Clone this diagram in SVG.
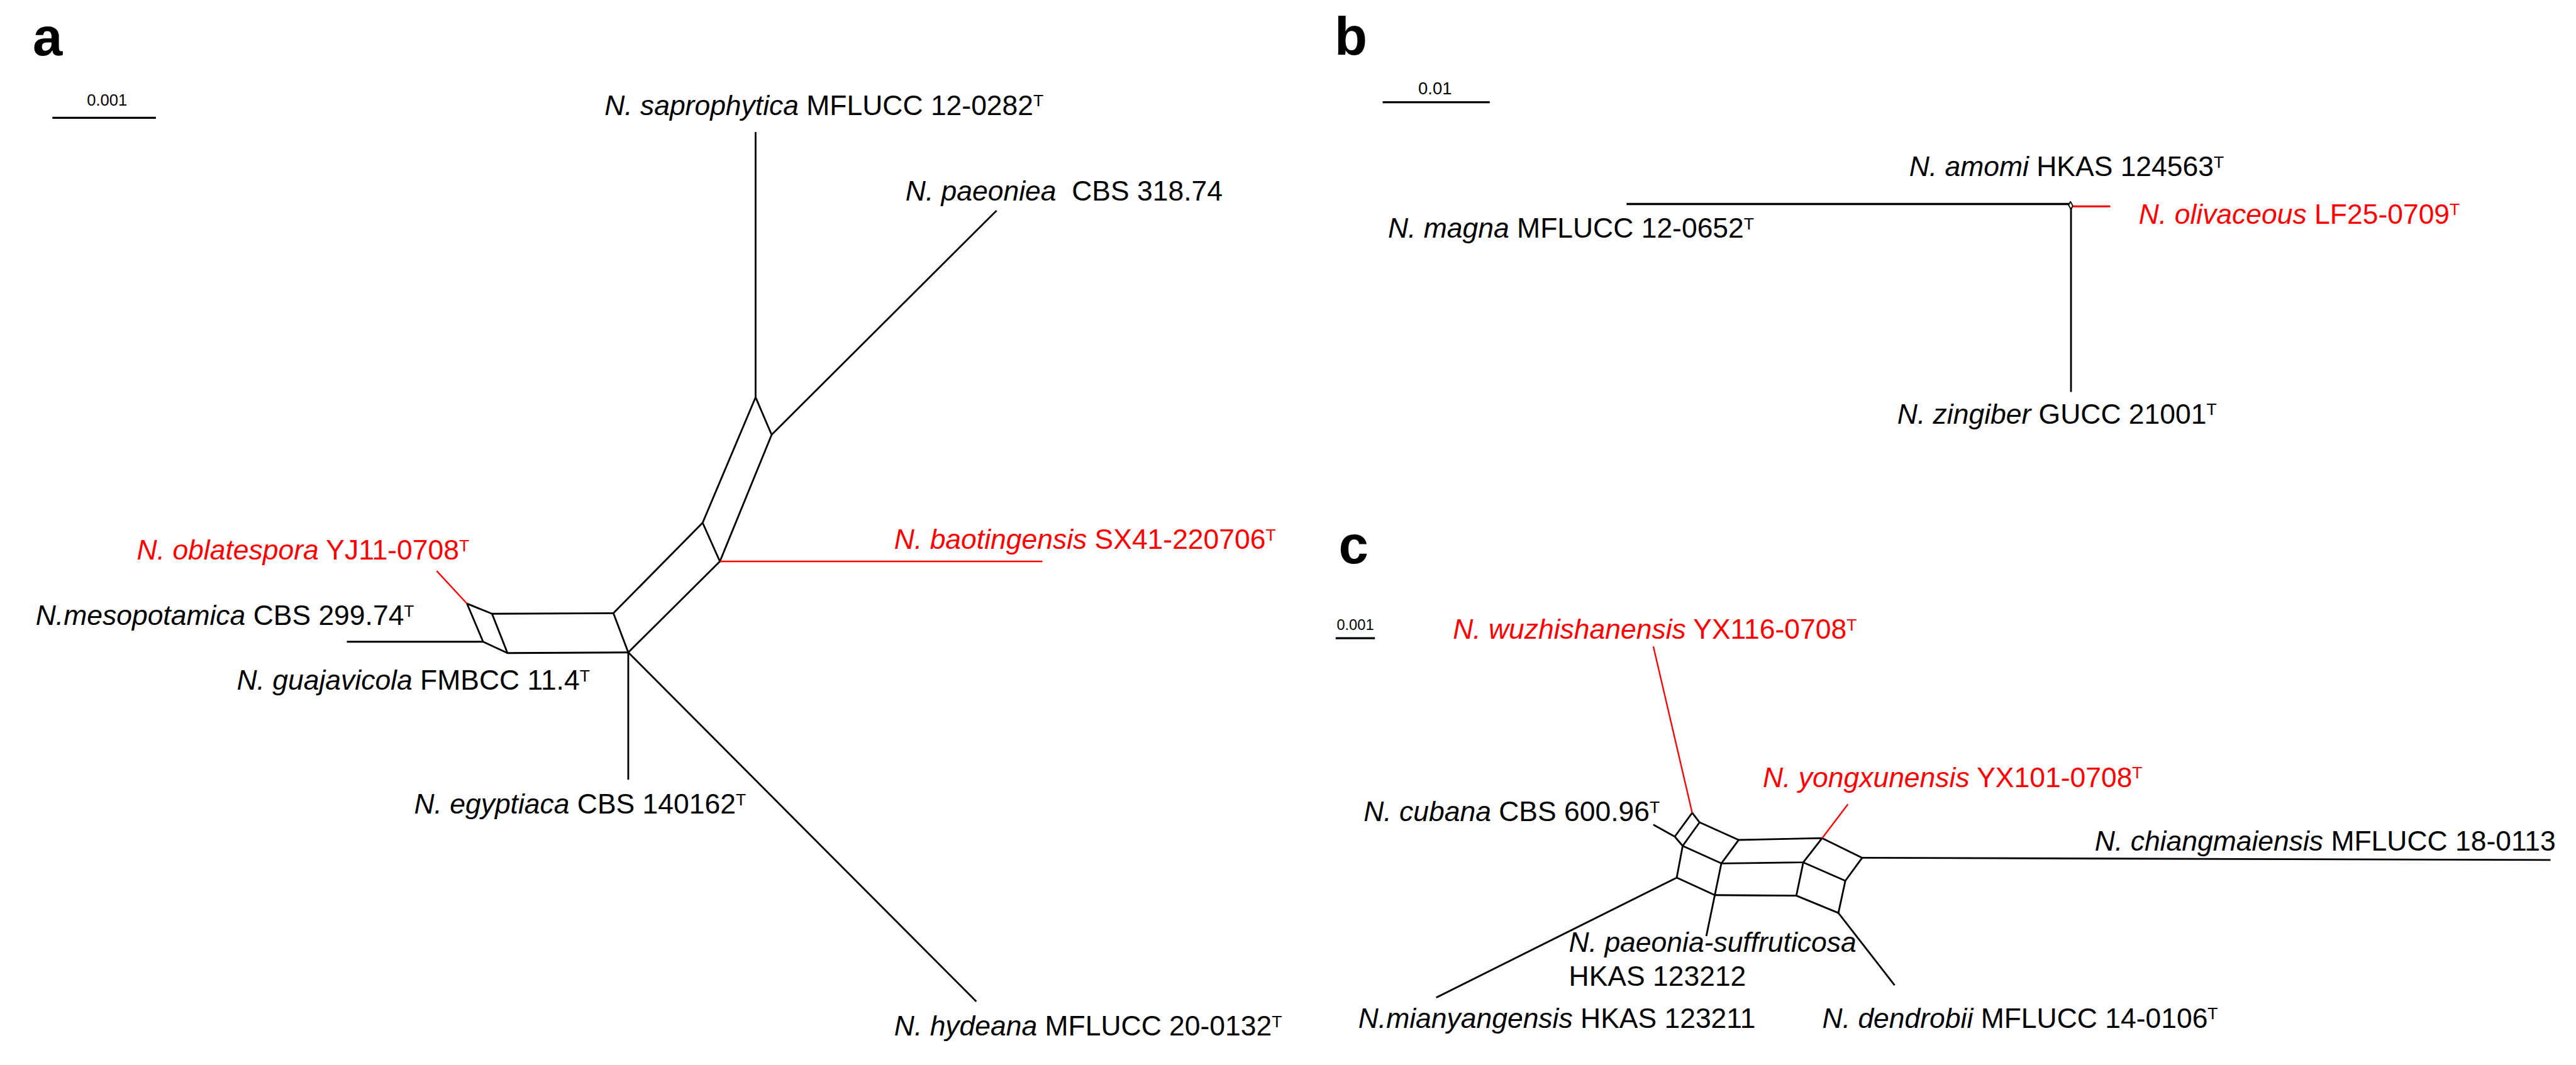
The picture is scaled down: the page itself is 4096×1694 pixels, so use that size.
<svg xmlns="http://www.w3.org/2000/svg" width="4096" height="1694" viewBox="0 0 4096 1694">
<style>
.t{font-family:"Liberation Sans",Arial,sans-serif;font-size:47px;fill:#000}
.r{fill:#f00}
.i{font-style:italic}
.s{font-size:28px}
.p{font-family:"Liberation Sans",Arial,sans-serif;font-weight:bold;font-size:90px;fill:#000}
.sc{font-family:"Liberation Sans",Arial,sans-serif;font-size:27px;fill:#000;text-anchor:middle}
.e{stroke:#000;stroke-width:3;fill:none;stroke-linejoin:round}
.er{stroke:#f00;stroke-width:2.5;fill:none}
.bar{stroke:#000;stroke-width:3.5}
</style>
<rect width="4096" height="1694" fill="#fff"/>
<g transform="scale(0.946)">
<g id="panel-labels">
<text class="p" x="55" y="93">a</text>
<text class="p" x="2243" y="92">b</text>
<text class="p" x="2250" y="947">c</text>
</g>
<g id="scale-bars">
<line class="bar" x1="88" y1="198" x2="262" y2="198"/>
<text class="sc" x="180" y="178">0.001</text>
<line class="bar" x1="2324" y1="172" x2="2504" y2="172"/>
<text class="sc" x="2412" y="159" style="font-size:29px">0.01</text>
<line class="bar" x1="2245" y1="1073" x2="2311" y2="1073"/>
<text class="sc" x="2278" y="1059" style="font-size:25px">0.001</text>
</g>
<g id="connectors">
<!-- panel a -->
<g id="a-edges">
<line class="e" x1="1270" y1="222" x2="1270" y2="668"/>
<polyline class="e" points="1181,879 1270,668 1297,731 1210,944 1181,879"/>
<line class="e" x1="1297" y1="731" x2="1675" y2="354"/>
<line class="er" x1="1210" y1="944" x2="1752" y2="944"/>
<polyline class="e" points="1181,879 1031,1031 1056,1097 1210,944"/>
<polyline class="e" points="1031,1031 827,1032 853,1098 1056,1097"/>
<polyline class="e" points="827,1032 785,1015 812,1079 853,1098"/>
<line class="er" x1="785" y1="1015" x2="734" y2="960"/>
<line class="e" x1="812" y1="1079" x2="583" y2="1079"/>
<line class="e" x1="1056" y1="1097" x2="1056" y2="1311"/>
<line class="e" x1="1056" y1="1097" x2="1641" y2="1684"/>
</g>
<!-- panel b -->
<g id="b-edges">
<line class="e" x1="2734" y1="343" x2="3478" y2="343" style="stroke-width:3.5"/>
<polygon class="e" points="3480,339 3484,346 3481,352 3477,345" style="stroke-width:2"/>
<line class="er" x1="3484" y1="347" x2="3547" y2="347" style="stroke-width:3"/>
<line class="e" x1="3481" y1="350" x2="3481" y2="659"/>
</g>
<!-- panel c -->
<g id="c-edges">
<polyline class="e" points="2815,1406.7 2844.3,1366.7 2856.7,1382.7 2828.3,1422.3 2815,1406.7"/>
<polyline class="e" points="2856.7,1382.7 2922.3,1412.3 2893.3,1451.7 2828.3,1422.3"/>
<polyline class="e" points="2922.3,1412.3 3062.7,1409.3 3031,1450 2893.3,1451.7"/>
<polyline class="e" points="3062.7,1409.3 3130,1442.3 3101.7,1481 3031,1450"/>
<polyline class="e" points="2828.3,1422.3 2818.3,1475.7 2882.3,1505 2893.3,1451.7"/>
<polyline class="e" points="2882.3,1505 3019.3,1506 3031,1450"/>
<polyline class="e" points="3019.3,1506 3090,1535 3101.7,1481"/>
<line class="er" x1="2844.3" y1="1366.7" x2="2779" y2="1087"/>
<line class="e" x1="2815" y1="1406.7" x2="2779" y2="1386.7"/>
<line class="er" x1="3062.7" y1="1409.3" x2="3106" y2="1352.3"/>
<line class="e" x1="3130" y1="1442.3" x2="4287" y2="1446"/>
<line class="e" x1="2818.3" y1="1475.7" x2="2414" y2="1677.3"/>
<line class="e" x1="2882.3" y1="1505" x2="2868" y2="1574"/>
<line class="e" x1="3090" y1="1535" x2="3184.5" y2="1656.5"/>
</g>
</g>
<!-- panel a labels -->
<g id="n-saprophytica"><text class="t" x="1016" y="193"><tspan class="i">N. saprophytica</tspan> MFLUCC 12-0282<tspan class="s" dy="-14">T</tspan></text></g>
<g id="n-paeoniea"><text class="t" x="1522" y="337"><tspan class="i">N. paeoniea</tspan>&#160; CBS 318.74</text></g>
<g id="n-baotingensis"><text class="t r" x="1503" y="923"><tspan class="i">N. baotingensis</tspan> SX41-220706<tspan class="s" dy="-14">T</tspan></text></g>
<g id="n-oblatespora"><text class="t r" x="230" y="941"><tspan class="i">N. oblatespora</tspan> YJ11-0708<tspan class="s" dy="-14">T</tspan></text></g>
<g id="n-mesopotamica"><text class="t" x="60" y="1051"><tspan class="i">N.mesopotamica</tspan> CBS 299.74<tspan class="s" dy="-14">T</tspan></text></g>
<g id="n-guajavicola"><text class="t" x="398" y="1160"><tspan class="i">N. guajavicola</tspan> FMBCC 11.4<tspan class="s" dy="-14">T</tspan></text></g>
<g id="n-egyptiaca"><text class="t" x="696" y="1368"><tspan class="i">N. egyptiaca</tspan> CBS 140162<tspan class="s" dy="-14">T</tspan></text></g>
<g id="n-hydeana"><text class="t" x="1503" y="1741"><tspan class="i">N. hydeana</tspan> MFLUCC 20-0132<tspan class="s" dy="-14">T</tspan></text></g>
<!-- panel b labels -->
<g id="n-amomi"><text class="t" x="3209" y="296"><tspan class="i">N. amomi</tspan> HKAS 124563<tspan class="s" dy="-14">T</tspan></text></g>
<g id="n-olivaceous"><text class="t r" x="3595" y="376"><tspan class="i">N. olivaceous</tspan> LF25-0709<tspan class="s" dy="-14">T</tspan></text></g>
<g id="n-magna"><text class="t" x="2333" y="400"><tspan class="i">N. magna</tspan> MFLUCC 12-0652<tspan class="s" dy="-14">T</tspan></text></g>
<g id="n-zingiber"><text class="t" x="3189" y="712"><tspan class="i">N. zingiber</tspan> GUCC 21001<tspan class="s" dy="-14">T</tspan></text></g>
<!-- panel c labels -->
<g id="n-wuzhishanensis"><text class="t r" x="2442" y="1074"><tspan class="i">N. wuzhishanensis</tspan> YX116-0708<tspan class="s" dy="-14">T</tspan></text></g>
<g id="n-cubana"><text class="t" x="2292" y="1381"><tspan class="i">N. cubana</tspan> CBS 600.96<tspan class="s" dy="-14">T</tspan></text></g>
<g id="n-yongxunensis"><text class="t r" x="2963" y="1323"><tspan class="i">N. yongxunensis</tspan> YX101-0708<tspan class="s" dy="-14">T</tspan></text></g>
<g id="n-chiangmaiensis"><text class="t" x="3521" y="1430"><tspan class="i">N. chiangmaiensis</tspan> MFLUCC 18-0113</text></g>
<g id="n-paeonia-suffruticosa"><text class="t" x="2637" y="1600"><tspan class="i">N. paeonia-suffruticosa</tspan><tspan x="2637" y="1657">HKAS 123212</tspan></text></g>
<g id="n-mianyangensis"><text class="t" x="2283" y="1728"><tspan class="i">N.mianyangensis</tspan> HKAS 123211</text></g>
<g id="n-dendrobii"><text class="t" x="3063" y="1728"><tspan class="i">N. dendrobii</tspan> MFLUCC 14-0106<tspan class="s" dy="-14">T</tspan></text></g>
</g>
</svg>
